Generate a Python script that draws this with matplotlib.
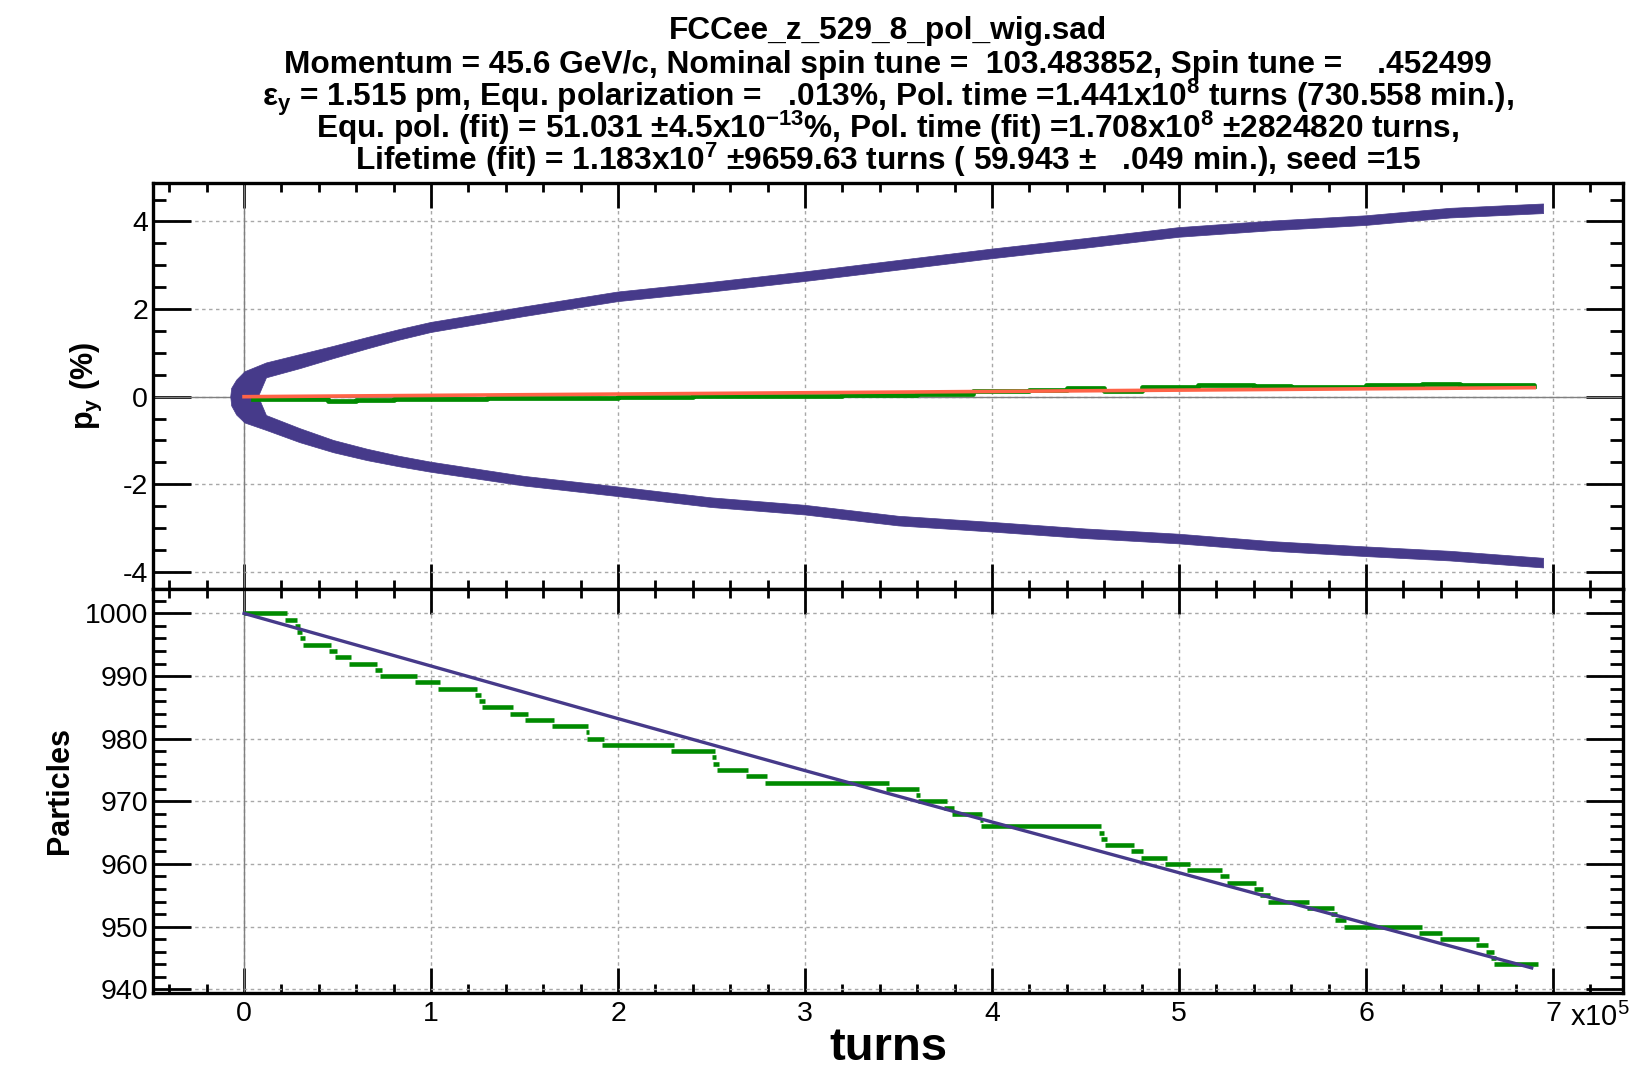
import numpy as np
import matplotlib
matplotlib.use("Agg")
import matplotlib.pyplot as plt
from matplotlib.ticker import MultipleLocator

plt.rcParams['font.family'] = ['Liberation Sans', 'DejaVu Sans']
plt.rcParams['axes.unicode_minus'] = False

# ---------------------------------------------------------------------------
# data (turns in units of 1e5)
# spin spread envelope (purple band), centre lines and half thickness
band_turns = [0.12, 0.30, 0.48, 0.66, 0.83, 1.0, 1.5, 2.0, 2.5, 3.0, 3.5,
              4.0, 4.5, 5.0, 5.5, 6.0, 6.45, 6.95]
band_upper = [0.60, 0.80, 1.01, 1.22, 1.41, 1.58, 1.94, 2.28, 2.50, 2.74,
              3.00, 3.26, 3.50, 3.75, 3.90, 4.02, 4.19, 4.29]
band_lower = [-0.60, -0.89, -1.14, -1.33, -1.48, -1.61, -1.93, -2.17, -2.42,
              -2.59, -2.84, -2.98, -3.13, -3.25, -3.42, -3.54, -3.64, -3.80]
band_half = [0.17, 0.16, 0.14, 0.13, 0.12, 0.115, 0.11, 0.11, 0.11, 0.11,
             0.11, 0.11, 0.11, 0.11, 0.11, 0.11, 0.11, 0.11]
# the rounded start of the band around turn 0
nose_turns = [0.005, -0.039, -0.066, -0.071, -0.066, -0.039, 0.005]
nose_py = [0.57, 0.38, 0.19, 0.0, -0.21, -0.42, -0.60]
nose_inner = 0.077

# measured polarisation (green) and fit (red)
pol_turns = [0.05, 0.3, 0.45, 0.6, 0.8, 1.0, 1.3, 1.6, 2.0, 2.4, 2.8, 3.2,
             3.6, 3.9, 4.2, 4.4, 4.6, 4.8, 5.1, 5.4, 5.6, 5.8, 6.0, 6.3,
             6.5, 6.7, 6.9]
pol_meas = [-0.06, -0.06, -0.09, -0.08, -0.06, -0.05, -0.04, -0.03, 0.0,
            0.01, 0.02, 0.04, 0.05, 0.12, 0.16, 0.19, 0.13, 0.23, 0.26, 0.25,
            0.21, 0.23, 0.26, 0.29, 0.27, 0.26, 0.24]
fit_turns = [0, 1, 2, 3, 4, 5, 6, 6.9]
pol_fit = [0.0, 0.03, 0.06, 0.09, 0.12, 0.15, 0.18, 0.206]

# surviving particles: turn at which each count starts
loss_turns = [0.0, 0.22, 0.27, 0.285, 0.30, 0.315, 0.455, 0.485, 0.56, 0.70,
              0.725, 0.915, 1.035, 1.235, 1.255, 1.275, 1.425, 1.505, 1.645,
              1.83, 1.835, 1.915, 2.285, 2.505, 2.51, 2.53, 2.685, 2.785,
              3.435, 3.595, 3.605, 3.745, 3.785, 3.935, 3.94, 4.57, 4.585,
              4.605, 4.745, 4.795, 4.925, 5.045, 5.22, 5.255, 5.40, 5.435,
              5.475, 5.685, 5.815, 5.835, 5.88, 6.285, 6.395, 6.59, 6.64,
              6.67, 6.685]
particle_count = list(range(1000, 943, -1))
last_turn = 6.91
life_turns = [0, 1, 2, 3, 4, 5, 6, 6.886]
life_fit = [1000, 991.6, 983.2, 974.9, 966.7, 958.6, 950.5, 943.4]

title_lines = [
    "FCCee_z_529_8_pol_wig.sad",
    "Momentum = 45.6 GeV/c, Nominal spin tune =  103.483852, Spin tune =    .452499",
    "\u03b5$\\mathregular{_y}$ = 1.515 pm, Equ. polarization =   .013%, Pol. time =1.441x10$\\mathregular{^8}$ turns (730.558 min.),",
    "Equ. pol. (fit) = 51.031 \u00b14.5x10$\\mathregular{^{-13}}$%, Pol. time (fit) =1.708x10$\\mathregular{^8}$ \u00b12824820 turns,",
    "Lifetime (fit) = 1.183x10$\\mathregular{^7}$ \u00b19659.63 turns ( 59.943 \u00b1   .049 min.), seed =15",
]
title_baselines = [39, 73, 106, 138, 170]

purple = '#463a8a'
green = '#008a00'
red = '#ff6347'

# ---------------------------------------------------------------------------
fig = plt.figure(figsize=(16.5, 10.73), dpi=100)
ax1 = fig.add_axes([0.0927, 0.4511, 0.8909, 0.3784])
ax2 = fig.add_axes([0.0927, 0.0746, 0.8909, 0.3765])

bx = np.array(band_turns)
bh = np.array(band_half)
up = np.array(band_upper)
lo = np.array(band_lower)
poly_x = np.concatenate([bx[::-1], nose_turns, bx, bx[::-1], [nose_inner], bx])
poly_y = np.concatenate([(up + bh)[::-1], nose_py, lo - bh, (lo + bh)[::-1],
                         [0.0], up - bh])
ax1.fill(poly_x, poly_y, color=purple, lw=0.5, ec=purple, zorder=3)
ax1.plot(pol_turns, pol_meas, color=green, lw=3.4, drawstyle='steps-post',
         zorder=4)
ax1.plot(fit_turns, pol_fit, color=red, lw=2.6, zorder=5)

ends = loss_turns[1:] + [last_turn]
ax2.hlines(particle_count, loss_turns, np.array(ends) + 0.012, color=green,
           lw=3.3, zorder=3)
ax2.plot(life_turns, life_fit, color=purple, lw=2.4, zorder=4)

for ax in (ax1, ax2):
    ax.set_xlim(-0.487, 7.374)
    ax.axvline(0, color='#808080', lw=1.0, zorder=2)
    ax.xaxis.set_major_locator(MultipleLocator(1))
    ax.xaxis.set_minor_locator(MultipleLocator(0.2))
    ax.grid(True, which='major', color='#a8a8a8', ls=(0, (2.5, 2.5)), lw=1.0,
            zorder=1)
    ax.set_axisbelow(True)
    for s in ax.spines.values():
        s.set_linewidth(2.4)
    ax.tick_params(which='both', direction='in', top=True, right=True,
                   width=2.0, labelsize=20.5, pad=6)
    ax.tick_params(axis='y', which='major', length=27, pad=3.5)
    ax.tick_params(axis='y', which='minor', length=9.5)
    ax.tick_params(axis='x', which='major', length=18)
    ax.tick_params(axis='x', which='minor', length=6.5)

ax1.axhline(0, color='#808080', lw=1.0, zorder=2)
ax1.set_ylim(-4.39, 4.88)
ax1.yaxis.set_major_locator(MultipleLocator(2))
ax1.yaxis.set_minor_locator(MultipleLocator(0.5))
ax1.tick_params(axis='x', labelbottom=False)
ax1.set_ylabel("p$\\mathregular{_y}$ (%)", fontsize=22, weight='bold')
ax1.yaxis.set_label_coords(-0.033, 0.5)

ax2.set_ylim(939.4, 1003.9)
ax2.yaxis.set_major_locator(MultipleLocator(10))
ax2.yaxis.set_minor_locator(MultipleLocator(2))
ax2.set_ylabel("Particles", fontsize=22, weight='bold')
ax2.yaxis.set_label_coords(-0.053, 0.5)

fig.text(888 / 1650, 1 - 1048 / 1073, "turns", ha='center', va='center',
         fontsize=34, weight='bold')
fig.text(1570 / 1650, 1 - 1026 / 1073, "x10$\\mathregular{^5}$", ha='left',
         va='baseline', fontsize=21)

for line, base in zip(title_lines, title_baselines):
    fig.text(888 / 1650, 1 - base / 1073, line, ha='center', va='baseline',
             fontsize=22.8, weight='bold')

fig.savefig("out.png", dpi=100)
